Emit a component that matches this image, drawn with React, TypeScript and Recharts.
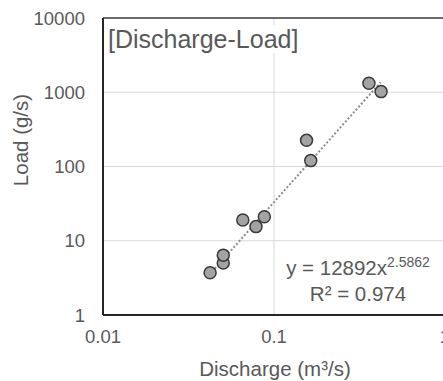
import React from "react";
import {
  CartesianGrid,
  Label,
  ReferenceLine,
  Scatter,
  ScatterChart,
  XAxis,
  YAxis,
} from "recharts";

// observed discharge (m3/s) and load (g/s)
const discharge = [0.0423, 0.0505, 0.0505, 0.0657, 0.0785, 0.0878, 0.155, 0.164, 0.359, 0.423];
const load = [3.7, 5.0, 6.4, 19.0, 15.5, 21.0, 225, 120, 1320, 1020];

// power-law trendline ends, y = 12892x^2.5862
const trendX = [0.042, 0.42];
const trendY = [3.5, 1360];

const xTicks = [0.01, 0.1, 1];
const yTicks = [1, 10, 100, 1000, 10000];

const points = discharge.map((x, i) => ({ x, y: load[i] }));
const trend = trendX.map((x, i) => ({ x, y: trendY[i] }));

const FONT = '"Liberation Sans", Arial, sans-serif';
const TEXT = "#595959";

const Dot = (props: any) => {
  const { cx, cy } = props;
  if (cx == null || cy == null) return <g />;
  return <circle cx={cx} cy={cy} r={6} fill="#a3a3a3" stroke="#3a3a3a" strokeWidth={1.5} />;
};

export default function App() {
  return (
    <div
      style={{
        position: "absolute",
        left: 0,
        top: 0,
        width: 443,
        height: 381,
        overflow: "hidden",
        background: "#fff",
        fontFamily: FONT,
      }}
    >
      <ScatterChart width={460} height={381} margin={{ top: 18, right: 15, bottom: 0, left: 0 }}>
        <CartesianGrid stroke="#d9d9d9" strokeWidth={1} />
        <XAxis
          dataKey="x"
          type="number"
          scale="log"
          domain={[0.01, 1]}
          ticks={xTicks}
          allowDataOverflow
          height={66}
          tickLine={false}
          tickSize={8}
          tickMargin={7}
          axisLine={{ stroke: "#262626", strokeWidth: 2 }}
          tick={{ fill: TEXT, fontSize: 18.5, fontFamily: FONT }}
        >
          <Label
            content={() => (
              <text x={275} y={376} textAnchor="middle" fill={TEXT} fontSize={20.5} fontFamily={FONT}>
                Discharge (m³/s)
              </text>
            )}
          />
        </XAxis>
        <YAxis
          dataKey="y"
          type="number"
          scale="log"
          domain={[1, 10000]}
          ticks={yTicks}
          allowDataOverflow
          width={103}
          tickLine={false}
          tickSize={10}
          tickMargin={8}
          axisLine={{ stroke: "#262626", strokeWidth: 2 }}
          tick={{ fill: TEXT, fontSize: 18.5, fontFamily: FONT }}
        >
          <Label
            content={() => (
              <text
                x={28}
                y={140}
                transform="rotate(-90 28 140)"
                textAnchor="middle"
                fill={TEXT}
                fontSize={20.5}
                fontFamily={FONT}
              >
                Load (g/s)
              </text>
            )}
          />
        </YAxis>
        <ReferenceLine y={10000} stroke="#404040" strokeWidth={1.5} />
        <ReferenceLine x={1} stroke="#404040" strokeWidth={1.5} />
        <Scatter
          data={trend}
          line={{ stroke: "#8c8c8c", strokeWidth: 2, strokeDasharray: "2 2" }}
          shape={() => <g />}
          isAnimationActive={false}
        />
        <Scatter data={points} shape={<Dot />} isAnimationActive={false} />
      </ScatterChart>

      <div
        style={{
          position: "absolute",
          left: 104,
          top: 25,
          padding: "0 4px",
          background: "#fff",
          color: TEXT,
          fontSize: 25,
          lineHeight: "28px",
          whiteSpace: "nowrap",
        }}
      >
        [Discharge-Load]
      </div>

      <div
        style={{
          position: "absolute",
          left: 278,
          top: 256,
          width: 160,
          textAlign: "center",
          color: TEXT,
          fontSize: 20.5,
          lineHeight: "23px",
          whiteSpace: "nowrap",
        }}
      >
        <div>
          y = 12892x
          <span style={{ fontSize: 14, position: "relative", top: -8 }}>2.5862</span>
        </div>
        <div>R² = 0.974</div>
      </div>
    </div>
  );
}
